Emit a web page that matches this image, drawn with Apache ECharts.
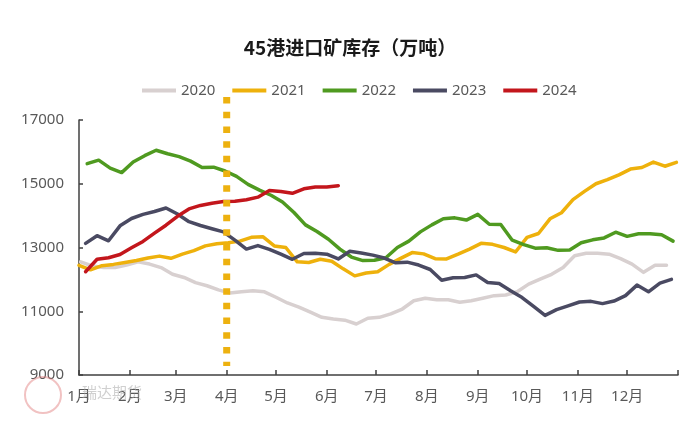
<!DOCTYPE html>
<html>
<head>
<meta charset="utf-8">
<script src="https://cdn.jsdelivr.net/npm/echarts@6/dist/echarts.min.js"></script>
<style>
html,body{margin:0;padding:0;background:#fff;}
#chart{width:700px;height:436px;}
</style>
</head>
<body>
<div id="chart"></div>
<script>
// Month tick labels and the day-of-year on which each month starts (365-day calendar)
const monthLabels = ['1月','2月','3月','4月','5月','6月','7月','8月','9月','10月','11月','12月'];
const monthStartDays = [0,31,59,90,120,151,181,212,243,273,304,334,365];
const seriesNames = ['2020','2021','2022','2023','2024'];
// Weekly values (万吨)
const v2020 = [12550,12420,12370,12370,12450,12550,12480,12370,12160,12060,11900,11800,11670,11570,11610,11640,11610,11440,11260,11130,10970,10810,10760,10720,10600,10780,10810,10920,11070,11330,11410,11360,11360,11280,11330,11410,11490,11510,11610,11850,12010,12160,12370,12740,12820,12820,12790,12650,12480,12220,12440,12440];
const v2021 = [12440,12300,12430,12470,12530,12590,12670,12730,12660,12790,12900,13050,13120,13150,13200,13320,13340,13050,13000,12550,12530,12630,12570,12330,12110,12200,12240,12470,12660,12840,12800,12650,12640,12790,12950,13130,13100,13000,12860,13320,13440,13900,14090,14500,14760,15000,15130,15280,15460,15510,15680,15550,15670];
const v2022 = [15630,15740,15490,15350,15680,15880,16050,15940,15850,15710,15510,15520,15400,15230,14980,14800,14640,14430,14100,13710,13500,13260,12950,12700,12590,12600,12680,13000,13200,13490,13710,13900,13930,13860,14040,13730,13720,13230,13090,12980,12990,12910,12920,13150,13240,13300,13480,13350,13430,13430,13400,13200];
const v2023 = [13130,13370,13210,13680,13910,14040,14130,14240,14050,13810,13690,13590,13490,13230,12950,13060,12940,12790,12630,12810,12820,12790,12640,12880,12830,12760,12670,12520,12540,12450,12310,11970,12050,12060,12140,11900,11870,11640,11430,11150,10870,11050,11170,11290,11310,11240,11320,11490,11820,11610,11880,12000];
const v2024 = [12240,12630,12680,12780,12990,13190,13450,13700,13980,14210,14320,14390,14440,14450,14500,14580,14790,14760,14700,14840,14900,14900,14940];
// Day-of-year of each year's first weekly reading
const startDay = [1, 0, 5, 4, 4];
const seriesValues = [v2020, v2021, v2022, v2023, v2024];
const colors = ['#D8D0D0', '#EEB10C', '#4F9A20', '#4A4A62', '#C3161C'];
// Marker: start of April (month index 3), spanning the plot height
const markerMonthIndex = 3;
const markerRange = [17720, 9280];

const DAYS_PER_WEEK = 7;
const fontFam = "'Noto Sans','Noto Sans CJK SC',sans-serif";

const lineSeries = seriesNames.map((name, s) => ({
  name: name,
  type: 'line',
  symbol: 'none',
  data: seriesValues[s].map((v, i) => [startDay[s] + i * DAYS_PER_WEEK, v]),
  lineStyle: { width: 3.5, color: colors[s], join: 'round', cap: 'round' },
  itemStyle: { color: colors[s] },
  z: 3 + s
}));

lineSeries.push({
  name: 'marker',
  type: 'line',
  symbol: 'none',
  clip: false,
  data: markerRange.map(v => [monthStartDays[markerMonthIndex], v]),
  lineStyle: { width: 7, color: '#EDB10F', type: [6.5, 8.2], cap: 'butt' },
  itemStyle: { color: '#EDB10F' },
  z: 10
});

const chart = echarts.init(document.getElementById('chart'), null, { renderer: 'canvas' });
chart.setOption({
  backgroundColor: '#ffffff',
  animation: false,
  textStyle: { fontFamily: fontFam },
  title: {
    text: '45港进口矿库存（万吨）',
    left: 'center',
    top: 33,
    textStyle: { fontSize: 19, fontWeight: 'bold', color: '#1a1a1a', fontFamily: "'Noto Sans CJK SC',sans-serif" }
  },
  legend: {
    data: seriesNames,
    left: 137,
    top: 78,
    icon: 'rect',
    itemWidth: 34,
    itemHeight: 4,
    itemGap: 17,
    textStyle: { fontSize: 15, color: '#595959', fontFamily: fontFam }
  },
  grid: { left: 79, right: 22, top: 120, bottom: 61, containLabel: false },
  xAxis: {
    type: 'value',
    min: monthStartDays[0],
    max: monthStartDays[monthStartDays.length - 1],
    axisLine: { lineStyle: { color: '#404040', width: 1.5 } },
    axisTick: { show: true, inside: true, length: 5, customValues: monthStartDays, lineStyle: { color: '#404040', width: 1.5 } },
    axisLabel: {
      fontSize: 15, color: '#595959', margin: 14, fontFamily: fontFam,
      customValues: monthStartDays.slice(0, 12),
      formatter: v => {
        const idx = monthStartDays.indexOf(v);
        return idx >= 0 && idx < 12 ? monthLabels[idx] : '';
      }
    },
    splitLine: { show: false }
  },
  yAxis: {
    type: 'value',
    min: 9000,
    max: 17000,
    interval: 2000,
    axisLine: { show: true, lineStyle: { color: '#404040', width: 1.5 } },
    axisTick: { show: true, inside: true, length: 4, lineStyle: { color: '#404040', width: 1.5 } },
    axisLabel: { fontSize: 15, color: '#595959', margin: 15, fontFamily: fontFam, formatter: v => String(v) },
    splitLine: { show: false }
  },
  graphic: [{
    type: 'circle',
    shape: { cx: 43, cy: 395, r: 18 },
    style: { fill: 'rgba(0,0,0,0)', stroke: 'rgba(225,120,120,0.45)', lineWidth: 2 },
    silent: true, z: 1
  }, {
    type: 'text',
    left: 82,
    top: 385,
    style: { text: '瑞达期货', fill: 'rgba(170,170,170,0.55)', font: "15px 'Noto Sans CJK SC'" },
    silent: true, z: 1
  }],
  series: lineSeries
});
</script>
</body>
</html>
